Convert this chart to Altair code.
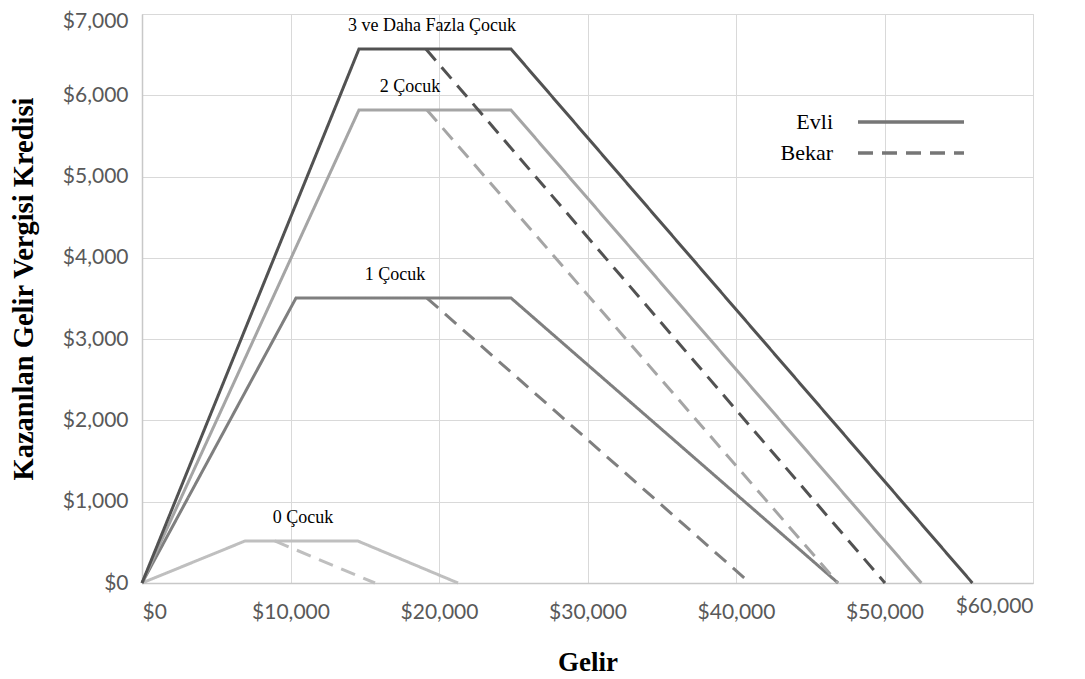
import altair as alt
import pandas as pd

# ---- data ----
children = ["0 Çocuk", "1 Çocuk", "2 Çocuk", "3 ve Daha Fazla Çocuk"]
max_credit = [517, 3506, 5819, 6569]
phase_in_end = [6940, 10370, 14610, 14610]
married_phaseout_start = [14530, 24850, 24850, 24850]
married_phaseout_end = [21280, 46870, 52480, 55920]
single_phaseout_start = [8940, 19190, 19190, 19120]
single_phaseout_end = [15690, 40940, 46870, 50030]
label_x = [10840, 17040, 18050, 19530]
status = ["Evli", "Bekar"]
x_ticks = [0, 10000, 20000, 30000, 40000, 50000, 60000]
y_ticks = [0, 1000, 2000, 3000, 4000, 5000, 6000, 7000]

colors = ["#bfbfbf", "#7f7f7f", "#a5a5a5", "#525252"]

rows = []
for i, c in enumerate(children):
    married = [(0, 0), (phase_in_end[i], max_credit[i]),
               (married_phaseout_start[i], max_credit[i]),
               (married_phaseout_end[i], 0)]
    for k, (gx, gy) in enumerate(married):
        rows.append(dict(seri=c + "|Evli", cocuk=c, durum="Evli", gelir=gx, kredi=gy, sira=k))
    single = [(single_phaseout_start[i], max_credit[i]), (single_phaseout_end[i], 0)]
    for k, (gx, gy) in enumerate(single):
        rows.append(dict(seri=c + "|Bekar", cocuk=c, durum="Bekar", gelir=gx, kredi=gy, sira=k))
df = pd.DataFrame(rows)

labels = pd.DataFrame(dict(etiket=children, gelir=label_x, kredi=max_credit))

x_axis = alt.Axis(
    values=x_ticks, format="$,.0f", title="Gelir", ticks=False,
    labelFont="Lato", labelFontSize=21, labelColor="#595959",
    labelPadding={"condition": {"test": "datum.value === 60000", "value": 12}, "value": 18},
    domainColor="#c8c8c8", domainWidth=1.5, gridColor="#d9d9d9", gridWidth=1,
    titleFont="Liberation Serif", titleFontWeight="bold", titleFontSize=27,
    titleColor="#000000", titleX=445.5, titleY=87, titleBaseline="alphabetic",
    titleAlign="center",
)
y_axis = alt.Axis(
    values=y_ticks, format="$,.0f", title="Kazanılan Gelir Vergisi Kredisi", ticks=False,
    labelFont="Lato", labelFontSize=21, labelColor="#595959", labelPadding=14,
    labelOffset={"condition": {"test": "datum.value === 7000", "value": 7}, "value": 0},
    domainColor="#c8c8c8", domainWidth=1.5, gridColor="#d9d9d9", gridWidth=1,
    titleFont="Liberation Serif", titleFontWeight="bold", titleFontSize=28.5,
    titleColor="#000000", titleAngle=270, titleX=-110, titleY=274.5,
    titleBaseline="alphabetic", titleAlign="center",
)

lines = alt.Chart(df).mark_line(strokeWidth=3, strokeCap="butt").encode(
    x=alt.X("gelir:Q", scale=alt.Scale(domain=[0, 60000], nice=False), axis=x_axis),
    y=alt.Y("kredi:Q", scale=alt.Scale(domain=[0, 7000], nice=False), axis=y_axis),
    color=alt.Color("cocuk:N", scale=alt.Scale(domain=children, range=colors), legend=None),
    strokeDash=alt.StrokeDash(
        "durum:N",
        scale=alt.Scale(domain=status, range=[[1, 0], [15, 9]]),
        legend=alt.Legend(
            title=None, orient="none", legendX=667, legendY=96, padding=0,
            symbolType="M3.7,0H14.3", symbolSize=400, symbolStrokeWidth=3.5,
            symbolStrokeColor="#767676", symbolOffset=0,
            labelFont="Liberation Serif", labelFontSize=22, labelColor="#000000",
            labelAlign="right", labelOffset=0, rowPadding=8,
        ),
    ),
    detail="seri:N",
    order="sira:Q",
)

texts = alt.Chart(labels).mark_text(
    font="Liberation Serif", fontSize=18, color="#000000", dy=-23, baseline="middle"
).encode(
    x="gelir:Q",
    y="kredi:Q",
    text="etiket:N",
)

chart = alt.layer(lines, texts).properties(
    width=891, height=569,
    autosize=alt.AutoSizeParams(type="none"),
    padding={"left": 134, "top": 6, "right": 44, "bottom": 95},
).configure_view(stroke="#d9d9d9", strokeWidth=1)

chart.save("out.html", embed_options={"renderer": "svg", "actions": False})
